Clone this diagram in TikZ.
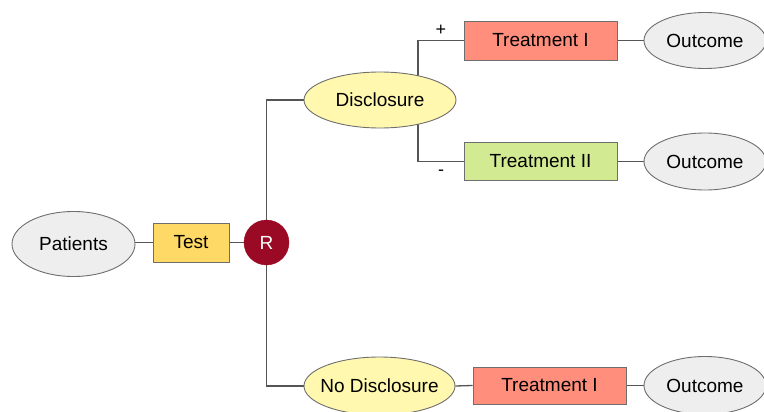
\documentclass[tikz,border=0pt]{standalone}
\usepackage{fontspec}
\setmainfont{Liberation Sans}
\usetikzlibrary{shapes.geometric,calc,backgrounds}
\definecolor{greyfill}{HTML}{EEEEEE}
\definecolor{edgegrey}{HTML}{6E6E6E}
\definecolor{linegrey}{HTML}{555555}
\definecolor{testfill}{HTML}{FFD966}
\definecolor{rred}{HTML}{9B0A24}
\definecolor{disfill}{HTML}{FFF8AE}
\definecolor{salmon}{HTML}{FF8F7C}
\definecolor{lightgreen}{HTML}{D2EA92}
\tikzset{
  every node/.style={font=\fontsize{19}{21}\selectfont, text=black},
  oval/.style={ellipse, draw=edgegrey, line width=0.9pt, fill=greyfill, inner sep=0pt},
  choice/.style={oval, fill=disfill},
  box/.style={rectangle, draw=edgegrey, line width=0.9pt, inner sep=0pt},
  rand/.style={circle, fill=rred, draw=rred, text=white, inner sep=0pt, minimum size=45pt},
  link/.style={draw=linegrey, line width=1.3pt},
  sign/.style={font=\fontsize{18}{20}\selectfont}
}
\begin{document}
\begin{tikzpicture}[x=1pt,y=-1pt]
\useasboundingbox (0,0) rectangle (764,412);

% entry, test and randomisation
\node[oval, minimum width=123pt, minimum height=65pt] (pat) at (73.5,244) {Patients};
\node[box, fill=testfill, minimum width=76pt, minimum height=39pt] (test) at (191,242.5) {Test};
\node[rand] (R) at (266.5,242.5) {R};

% two arms
\node[choice, minimum width=152pt, minimum height=56pt] (dis) at (380,100) {Disclosure};
\node[choice, inner xsep=-6pt, minimum width=151pt, minimum height=58pt] (nodis) at (379.5,386) {No Disclosure};

% treatments
\node[box, fill=salmon, minimum width=153pt, minimum height=39pt] (t1) at (540.5,40.5) {Treatment I};
\node[box, fill=lightgreen, minimum width=153pt, minimum height=38pt] (t2) at (540.5,161.5) {Treatment II};
\node[box, fill=salmon, minimum width=153pt, minimum height=37pt] (t3) at (549.5,385.5) {Treatment I};

% outcomes
\node[oval, minimum width=122pt, minimum height=56pt] (o1) at (705,40.5) {Outcome};
\node[oval, minimum width=122pt, minimum height=57pt] (o2) at (705,161.5) {Outcome};
\node[oval, minimum width=122pt, minimum height=58pt] (o3) at (705,385.5) {Outcome};

% branch labels
\node[sign] (plus) at (441,30) {+};
\node[sign] (minus) at (441,173) {-};

\coordinate (split) at ($(dis.center)+(38,0)$);

\begin{scope}[on background layer]
  \draw[link] (test.west) -- (test.west -| pat.center);
  \draw[link] (test.east) -- (R.west);
  \draw[link] (R.north) |- (dis.west);
  \draw[link] (R.south) |- (nodis.west);
  \draw[link] (t1.west) -| (split) |- (t2.west);
  \draw[link] (t1.east) -- (o1.west);
  \draw[link] (t2.east) -- (o2.west);
  \draw[link] (nodis.east) -- (t3.west);
  \draw[link] (t3.east) -- (o3.west);
\end{scope}
\end{tikzpicture}
\end{document}
